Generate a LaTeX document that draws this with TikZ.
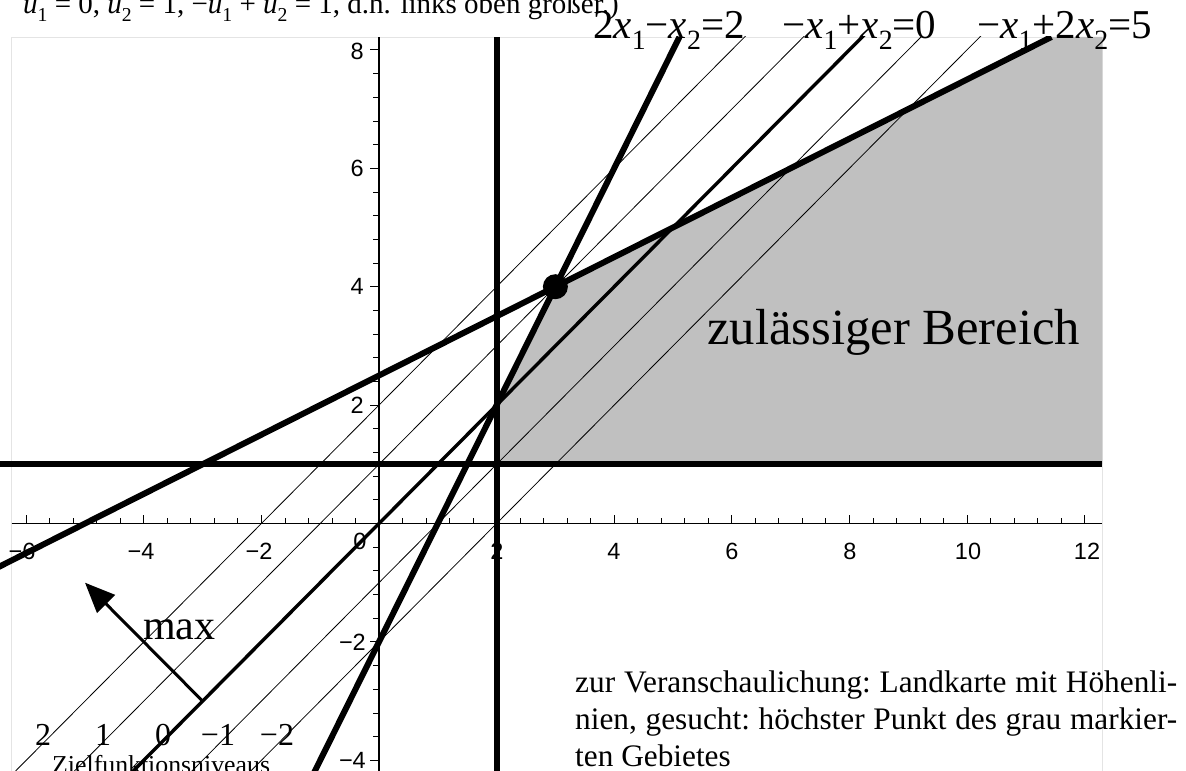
\documentclass[tikz,border=0pt]{standalone}
\usepackage{graphicx}
\usepackage{fontspec}
\setmainfont{Liberation Serif}
\newfontfamily\axfont{Liberation Sans}
\usetikzlibrary{arrows.meta}
\definecolor{regiongray}{RGB}{192,192,192}
\definecolor{framegray}{RGB}{228,228,228}
\newcommand\lsub[1]{\raisebox{-0.25em}{\scalebox{0.68}{#1}}}
\newcommand\vx[1]{\textit{x}\lsub{#1}}
\newcommand\vu[1]{\textit{u}\lsub{#1}}
\newcommand\jline[1]{{\frenchspacing\makebox[602pt][s]{#1}}}
\begin{document}
\begin{tikzpicture}[x=1pt,y=1pt,
  heavy/.style={line width=6pt},
  medium/.style={line width=3.4pt},
  hair/.style={line width=0.8pt},
  axisline/.style={line width=1.1pt},
  lab/.style={font=\fontsize{41}{49}\selectfont, inner sep=0pt, anchor=base west},
  ticklab/.style={font=\axfont\fontsize{23.5}{28}\selectfont, inner sep=0pt},
  lvl/.style={font=\fontsize{32}{38}\selectfont, inner sep=0pt, anchor=base},
  body/.style={font=\fontsize{31.3}{37}\selectfont, inner sep=0pt, anchor=base west}]
\useasboundingbox (0,0) rectangle (1186,771);
\begin{scope}[shift={(379pt,247.5pt)}, x=58.8pt, y=59.2pt]
  % frame
  \draw[framegray, line width=0.8pt] (-6.25,-4.6) -- (-6.25,8.218) -- (12.3,8.218) -- (12.3,-4.6);
  % feasible region
  \fill[regiongray] (2,1) -- (12.3,1) -- (12.3,8.218) -- (11.436,8.218) -- (3,4) -- (2,2) -- cycle;
  \begin{scope}
    \clip (-6.45,-4.6) rectangle (12.3,8.218);
    % objective level lines
    \foreach \c in {-2,-1,1,2} {
      \draw[hair] (-9,-9+\c) -- (13,13+\c);
    }
    \draw[medium] (-9,-9) -- (13,13);
    % axes
    \draw[axisline] (-6.25,0) -- (12.3,0);
    \draw[axisline] (0,-4.6) -- (0,8.218);
    \foreach \i in {-15,...,30} {
      \draw[line width=0.8pt] (0.4*\i,0) -- ++(0,5pt);
    }
    \foreach \i in {-3,...,6} {
      \draw[line width=0.8pt] (2*\i,0) -- ++(0,8pt);
    }
    \foreach \i in {-11,...,20} {
      \draw[line width=0.8pt] (0,0.4*\i) -- ++(-6pt,0);
    }
    \foreach \i in {-2,...,4} {
      \draw[line width=0.8pt] (0,2*\i) -- ++(-9pt,0);
    }
    % constraint lines
    \draw[heavy] (-8,1) -- (12.3,1);
    \draw[heavy] (2,-5) -- (2,8.218);
    \draw[heavy] (-1.5,-5) -- (5.109,8.218);
    \draw[heavy] (-8,-1.5) -- (11.436,8.218);
  \end{scope}
  % optimum
  \fill (3,4) circle (12.5pt);
  % max arrow
  \coordinate (arrS) at (-3,-3);
  \coordinate (arrE) at (-5,-1);
  \draw[line width=3pt, -{Triangle[length=30pt,width=25pt]}] (arrS) -- (arrE);
\end{scope}
% tick labels
\node[ticklab, anchor=east] (y8) at (364,720) {8};
\node[ticklab, anchor=east] (y6) at (364,602.7) {6};
\node[ticklab, anchor=east] (y4) at (364,484.3) {4};
\node[ticklab, anchor=east] (y2) at (364,365.9) {2};
\node[ticklab, anchor=east] (ym2) at (366,129.1) {−2};
\node[ticklab, anchor=east] (ym4) at (366,10.7) {−4};
\node[ticklab] (xm6) at (22,220) {−6};
\node[ticklab] (xm4) at (141,220) {−4};
\node[ticklab] (xm2) at (259,220) {−2};
\node[ticklab] (x0) at (360,230) {0};
\node[ticklab] (x2) at (497,220) {2};
\node[ticklab] (x4) at (614,220) {4};
\node[ticklab] (x6) at (732,220) {6};
\node[ticklab] (x8) at (850,220) {8};
\node[ticklab] (x10) at (968,220) {10};
\node[ticklab] (x12) at (1087,220) {12};
% line labels
\node[lab] (l1) at (593,732) {2\vx1−\vx2=2};
\node[lab] (l2) at (782,732) {−\vx1+\vx2=0};
\node[lab] (l3) at (977,732) {−\vx1+2\vx2=5};
% cut-off top text
\node[font=\fontsize{29}{35}\selectfont, inner sep=0pt, anchor=base east] (top) at (619,757)
  {\vu1 = 0, \vu2 = 1, −\vu1 + \vu2 = 1, d.h. links oben größer.)};
% region label
\node[font=\fontsize{50.7}{60}\selectfont, inner sep=0pt, anchor=base west] (zb) at (707,426) {zulässiger Bereich};
% max
\node[font=\fontsize{42}{50}\selectfont, inner sep=0pt, anchor=base west] (mx) at (143,131) {max};
% level labels
\node[lvl] (c2) at (43,25) {2};
\node[lvl] (c1) at (103,25) {1};
\node[lvl] (c0) at (163,25) {0};
\node[lvl] (cm1) at (218,25) {−1};
\node[lvl] (cm2) at (277,25) {−2};
\node[font=\fontsize{25.8}{30}\selectfont, inner sep=0pt, anchor=base west] (zf) at (52,-2) {Zielfunktionsniveaus};
% explanation
\node[body] (t1) at (575,78) {\jline{zur Veranschaulichung: Landkarte mit Höhenli-}};
\node[body] (t2) at (575,41) {\jline{nien, gesucht: höchster Punkt des grau markier-}};
\node[body] (t3) at (575,4) {ten Gebietes};
\end{tikzpicture}
\end{document}
